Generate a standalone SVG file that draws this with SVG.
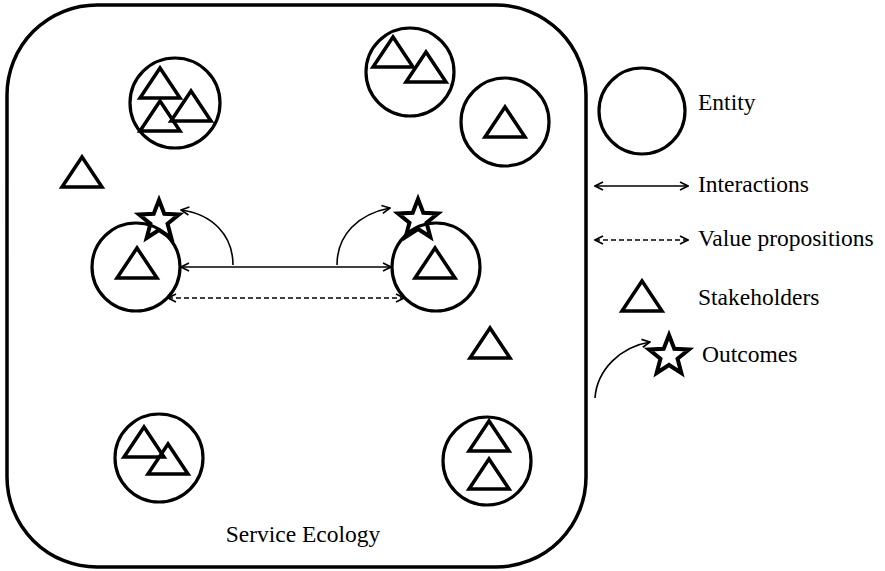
<svg xmlns="http://www.w3.org/2000/svg" width="885" height="571" viewBox="0 0 885 571">
<style>
.ent{fill:none;stroke:#000;stroke-width:3.2}
.tri{fill:none;stroke:#000;stroke-width:3.5;stroke-linejoin:miter}
.star{fill:none;stroke:#000;stroke-width:4;stroke-linejoin:miter}
.ln{fill:none;stroke:#000;stroke-width:1.6}
.dash{fill:none;stroke:#000;stroke-width:1.6;stroke-dasharray:5 3}
.lbl{font-family:"Liberation Serif","Times New Roman",serif;font-size:23.5px;fill:#000}
</style>
<defs>
<marker id="ah" viewBox="0 0 10 10" refX="9" refY="5" markerWidth="10" markerHeight="10" markerUnits="userSpaceOnUse" orient="auto-start-reverse">
<path d="M1,1 L9,5 L1,9" fill="none" stroke="#000" stroke-width="1.6"/>
</marker>
<path id="tri" d="M0,0 L-20,30 L20,30 Z"/>
<path id="star" d="M0,-21 L5.29,-7.28 L19.97,-6.49 L8.56,2.78 L12.34,16.99 L0,9 L-12.34,16.99 L-8.56,2.78 L-19.97,-6.49 L-5.29,-7.28 Z"/>
</defs>
<rect x="7" y="5" width="579" height="562" rx="90" ry="90" fill="none" stroke="#000" stroke-width="3.5"/>
<text class="lbl" x="303" y="542" text-anchor="middle">Service Ecology</text>

<g id="entity-top-left">
<circle class="ent" cx="175" cy="103" r="45"/>
<use href="#tri" class="tri" x="160" y="68"/>
<use href="#tri" class="tri" x="160" y="101"/>
<use href="#tri" class="tri" x="191" y="91"/>
</g>
<g id="entity-top-mid">
<circle class="ent" cx="410" cy="72" r="44"/>
<use href="#tri" class="tri" x="393" y="37"/>
<use href="#tri" class="tri" x="426" y="52"/>
</g>
<g id="entity-top-right">
<circle class="ent" cx="505" cy="122" r="44"/>
<use href="#tri" class="tri" x="505" y="107"/>
</g>
<g id="stakeholder-left">
<use href="#tri" class="tri" x="82" y="157"/>
</g>
<g id="stakeholder-right">
<use href="#tri" class="tri" x="490" y="328"/>
</g>
<g id="entity-mid-left">
<circle class="ent" cx="136" cy="267" r="44"/>
<use href="#tri" class="tri" x="137" y="248"/>
<use href="#star" class="star" x="159" y="221"/>
</g>
<g id="entity-mid-right">
<circle class="ent" cx="436" cy="267" r="44"/>
<use href="#tri" class="tri" x="435" y="248"/>
<use href="#star" class="star" x="418" y="220"/>
</g>
<g id="entity-bottom-left">
<circle class="ent" cx="159" cy="458" r="44"/>
<use href="#tri" class="tri" x="144" y="427"/>
<use href="#tri" class="tri" x="168" y="444"/>
</g>
<g id="entity-bottom-right">
<circle class="ent" cx="487" cy="461" r="44"/>
<use href="#tri" class="tri" x="489" y="421"/>
<use href="#tri" class="tri" x="489" y="459"/>
</g>

<g id="connectors">
<line class="ln" x1="181" y1="267" x2="391" y2="267" marker-start="url(#ah)" marker-end="url(#ah)"/>
<line class="dash" x1="168" y1="298" x2="404" y2="298" marker-start="url(#ah)" marker-end="url(#ah)"/>
<path class="ln" d="M233,265 C233,235 212,214 181,210" marker-end="url(#ah)"/>
<path class="ln" d="M337,265 C337,235 358,214 390,208" marker-end="url(#ah)"/>
</g>

<g id="legend">
<g id="legend-entity">
<circle class="ent" cx="642" cy="111" r="43"/>
<text class="lbl" x="698" y="110">Entity</text>
</g>
<g id="legend-interactions">
<line class="ln" x1="595" y1="186" x2="688" y2="186" marker-start="url(#ah)" marker-end="url(#ah)"/>
<text class="lbl" x="698" y="192">Interactions</text>
</g>
<g id="legend-value">
<line class="dash" x1="595" y1="240" x2="688" y2="240" marker-start="url(#ah)" marker-end="url(#ah)"/>
<text class="lbl" x="698" y="246">Value propositions</text>
</g>
<g id="legend-stakeholders">
<use href="#tri" class="tri" x="642" y="281"/>
<text class="lbl" x="698" y="305">Stakeholders</text>
</g>
<g id="legend-outcomes">
<use href="#star" class="star" x="669" y="356"/>
<path class="ln" d="M595,398 C597,370 620,347 650,342" marker-end="url(#ah)"/>
<text class="lbl" x="702" y="362">Outcomes</text>
</g>
</g>
</svg>
